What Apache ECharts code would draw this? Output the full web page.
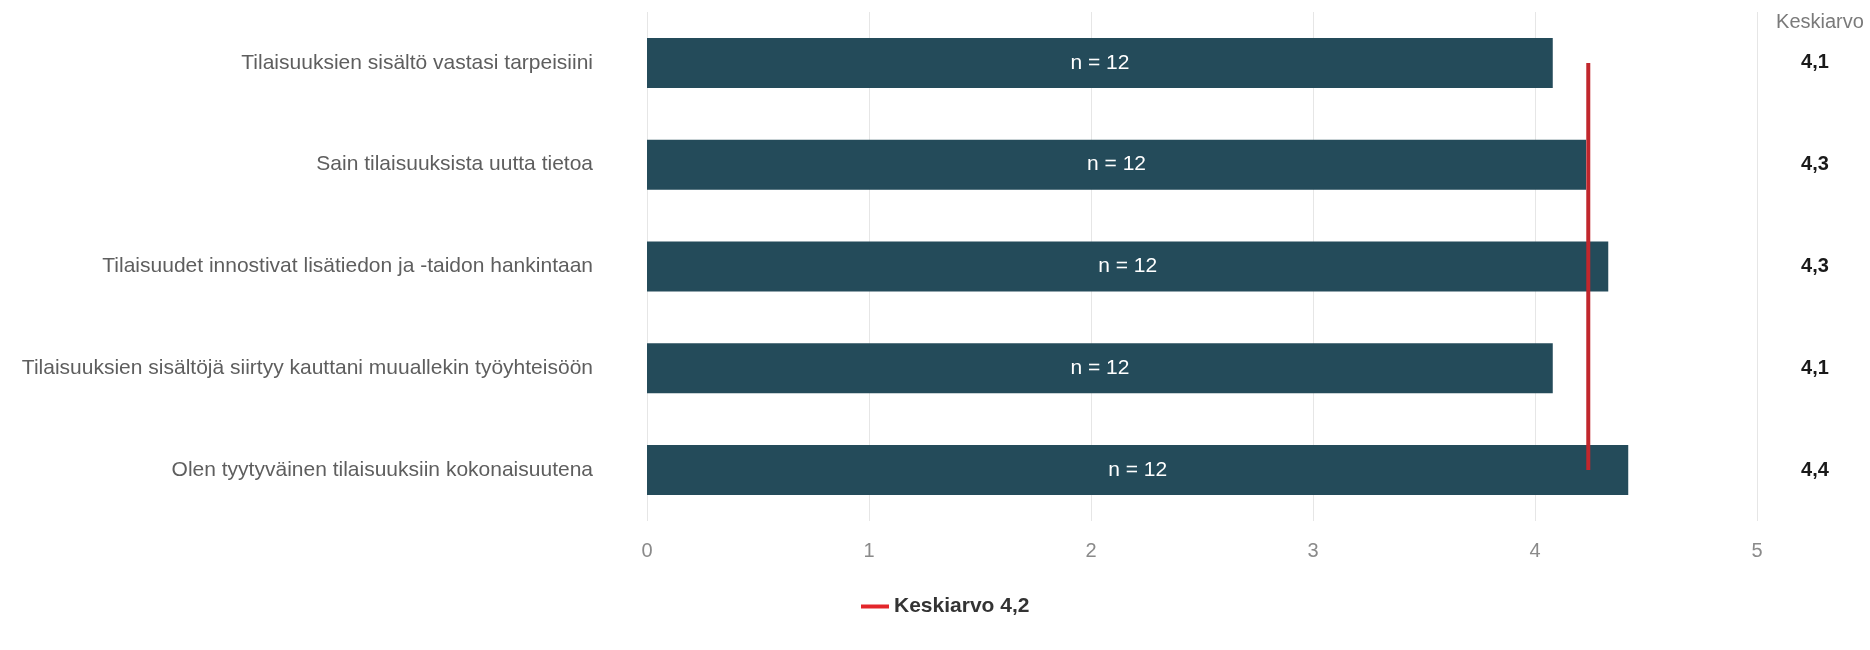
<!DOCTYPE html>
<html>
<head>
<meta charset="utf-8">
<script src="https://cdn.jsdelivr.net/npm/echarts@6/dist/echarts.min.js"></script>
<style>
html,body{margin:0;padding:0;background:#fff;}
#chart{width:1870px;height:650px;}
</style>
</head>
<body>
<div id="chart"></div>
<script>
// ---- data ----
var categories = [
  "Tilaisuuksien sisältö vastasi tarpeisiini",
  "Sain tilaisuuksista uutta tietoa",
  "Tilaisuudet innostivat lisätiedon ja -taidon hankintaan",
  "Tilaisuuksien sisältöjä siirtyy kauttani muuallekin työyhteisöön",
  "Olen tyytyväinen tilaisuuksiin kokonaisuutena"
];
var values = [4.08, 4.23, 4.33, 4.08, 4.42];
var nLabels = ["n = 12", "n = 12", "n = 12", "n = 12", "n = 12"];
var meanLabels = ["4,1", "4,3", "4,3", "4,1", "4,4"];
var overallMean = 4.24;
var overallMeanName = "Keskiarvo 4,2";
var meanHeader = "Keskiarvo";
var xTicks = [0, 1, 2, 3, 4, 5];

var FONT = "Liberation Sans, Arial, sans-serif";
var chart = echarts.init(document.getElementById('chart'), null, {renderer: 'canvas'});

var option = {
  backgroundColor: '#ffffff',
  animation: false,
  textStyle: {fontFamily: FONT},
  grid: {left: 647, right: 113, top: 12, bottom: 129, containLabel: false},
  legend: {
    data: [overallMeanName],
    left: 856,
    top: 591,
    icon: 'rect',
    itemWidth: 28,
    itemHeight: 4,
    itemGap: 7,
    textStyle: {fontFamily: FONT, fontSize: 21, fontWeight: 'bold', color: '#333333'}
  },
  graphic: [{
    type: 'text',
    x: 1820,
    y: 22,
    style: {
      text: meanHeader,
      fontFamily: FONT,
      fontSize: 20,
      fill: '#7a7a7a',
      align: 'center',
      verticalAlign: 'middle'
    }
  }],
  xAxis: {
    type: 'value',
    min: xTicks[0],
    max: xTicks[xTicks.length - 1],
    interval: 1,
    axisLine: {show: false},
    axisTick: {show: false},
    splitLine: {show: true, lineStyle: {color: '#e6e6e6', width: 1}},
    axisLabel: {color: '#8a8a8a', fontSize: 20, fontFamily: FONT, margin: 20}
  },
  yAxis: [{
    type: 'category',
    data: categories,
    inverse: true,
    axisLine: {show: false},
    axisTick: {show: false},
    axisLabel: {color: '#5e5e5e', fontSize: 21, fontFamily: FONT, margin: 54}
  }, {
    type: 'category',
    data: categories,
    inverse: true,
    position: 'right',
    axisLine: {show: false},
    axisTick: {show: false},
    axisLabel: {
      color: '#1a1a1a', fontSize: 20, fontWeight: 'bold', fontFamily: FONT,
      align: 'center', margin: 58,
      formatter: function (v, i) { return meanLabels[i]; }
    }
  }],
  series: [{
    name: 'Keskiarvot',
    type: 'bar',
    data: values,
    barWidth: 50,
    itemStyle: {color: '#244b5a'},
    label: {
      show: true,
      position: 'inside',
      color: '#ffffff',
      fontSize: 21,
      fontFamily: FONT,
      formatter: function (p) { return nLabels[p.dataIndex]; }
    }
  }, {
    name: overallMeanName,
    type: 'line',
    data: categories.map(function (c) { return [overallMean, c]; }),
    symbol: 'none',
    lineStyle: {color: '#c1272d', width: 4},
    itemStyle: {color: '#e3262b'},
    z: 5
  }]
};
chart.setOption(option);
</script>
</body>
</html>
